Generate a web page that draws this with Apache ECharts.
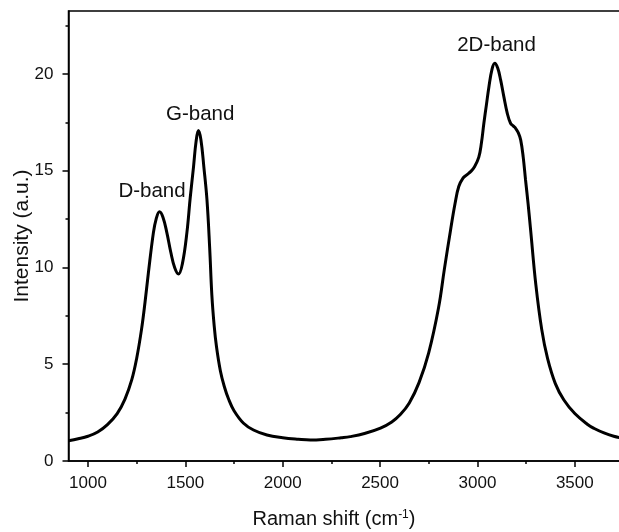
<!DOCTYPE html>
<html>
<head>
<meta charset="utf-8">
<script src="https://cdn.jsdelivr.net/npm/echarts@6/dist/echarts.min.js"></script>
<style>
  html, body { margin: 0; padding: 0; background: #fff; }
  #chart { width: 619px; height: 532px; }
</style>
</head>
<body>
<div id="chart"></div>
<script>
// Raman spectrum: shift (cm^-1) and intensity (a.u.)
const shift = [900, 950, 1000, 1050, 1100, 1150, 1190, 1225, 1250, 1275, 1293, 1310, 1336, 1350, 1367, 1385, 1405, 1425, 1445, 1465, 1485, 1508, 1525, 1542, 1555, 1567, 1580, 1595, 1611, 1625, 1636, 1648, 1660, 1680, 1700, 1722, 1750, 1799, 1850, 1919, 2000, 2080, 2142, 2220, 2300, 2347, 2420, 2502, 2560, 2604, 2650, 2700, 2750, 2800, 2830, 2862, 2885, 2904, 2925, 2945, 2965, 2985, 3007, 3020, 3033, 3046, 3059, 3075, 3089, 3104, 3119, 3136, 3153, 3170, 3185, 3196, 3210, 3222, 3235, 3247, 3260, 3273, 3300, 3330, 3360, 3400, 3444, 3500, 3564, 3600, 3650, 3700, 3750];
const intensity = [1.05, 1.15, 1.28, 1.5, 1.88, 2.45, 3.2, 4.2, 5.3, 6.8, 8.2, 9.7, 11.8, 12.5, 12.88, 12.6, 11.8, 10.8, 10.0, 9.66, 10.2, 11.8, 13.6, 15.2, 16.5, 17.07, 16.6, 15.2, 13.5, 11.0, 8.6, 7.0, 5.9, 4.65, 3.85, 3.2, 2.6, 1.95, 1.6, 1.34, 1.2, 1.12, 1.08, 1.12, 1.2, 1.26, 1.42, 1.7, 2.02, 2.4, 3.0, 4.05, 5.6, 7.9, 9.9, 11.94, 13.3, 14.18, 14.6, 14.78, 14.95, 15.2, 15.7, 16.4, 17.45, 18.4, 19.34, 20.25, 20.55, 20.3, 19.69, 18.8, 17.97, 17.45, 17.3, 17.19, 16.95, 16.59, 15.7, 14.52, 13.3, 11.94, 9.1, 6.8, 5.3, 4.0, 3.15, 2.45, 1.9, 1.68, 1.45, 1.28, 1.16];

// Axis ticks
const xMajorTicks = [1000, 1500, 2000, 2500, 3000, 3500];
const xMinorTicks = [1250, 1750, 2250, 2750, 3250, 3750];
const yMajorTicks = [0, 5, 10, 15, 20];
const yMinorTicks = [2.5, 7.5, 12.5, 17.5, 22.5];

// Band annotations
const bandNames = ['D-band', 'G-band', '2D-band'];
const bandShift = [1329, 1576, 3098];
const bandHeight = [13.95, 17.9, 21.5];

const FONT = '"Liberation Sans", Arial, sans-serif';
const INK = '#000';

const chart = echarts.init(document.getElementById('chart'), null, { renderer: 'canvas' });

const axisLine = { show: true, lineStyle: { color: INK, width: 1.5 } };
const X_MIN = 900, X_MAX = 3750, Y_MIN = 0, Y_MAX = 23.25;
const plain = v => String(v);

chart.setOption({
  animation: false,
  backgroundColor: '#fff',
  grid: {
    left: 68.5, top: 11, right: -4.5, bottom: 71,
    outerBoundsMode: 'none',
    containLabel: false,
    show: true, borderColor: INK, borderWidth: 1.5, backgroundColor: 'transparent'
  },
  xAxis: [
    {
      type: 'value', min: X_MIN, max: X_MAX, position: 'bottom',
      name: 'Raman shift (cm{sup|-1})',
      nameLocation: 'middle', nameGap: 47.5, nameMoveOverlap: false,
      nameTextStyle: {
        fontFamily: FONT, fontSize: 20, color: '#111', padding: [0, 24, 0, 0],
        rich: { sup: { fontFamily: FONT, fontSize: 12, color: '#111', padding: [0, 0, 10, 0] } }
      },
      axisLine: axisLine,
      axisTick: { show: true, inside: false, length: 6, customValues: xMajorTicks, lineStyle: { color: INK, width: 1.5 } },
      axisLabel: { show: true, margin: 14, customValues: xMajorTicks, formatter: plain, fontFamily: FONT, fontSize: 17, color: '#111' },
      splitLine: { show: false }
    },
    {
      type: 'value', min: X_MIN, max: X_MAX, position: 'bottom',
      axisLine: { show: false },
      axisTick: { show: true, inside: false, length: 3, customValues: xMinorTicks, lineStyle: { color: INK, width: 1.5 } },
      axisLabel: { show: false },
      splitLine: { show: false }
    }
  ],
  yAxis: [
    {
      type: 'value', min: Y_MIN, max: Y_MAX, position: 'left',
      name: 'Intensity (a.u.)',
      nameLocation: 'middle', nameGap: 36, nameRotate: 90, nameMoveOverlap: false,
      nameTextStyle: { fontFamily: FONT, fontSize: 21, color: '#111' },
      axisLine: axisLine,
      axisTick: { show: true, inside: false, length: 6, customValues: yMajorTicks, lineStyle: { color: INK, width: 1.5 } },
      axisLabel: { show: true, margin: 15, customValues: yMajorTicks, formatter: plain, fontFamily: FONT, fontSize: 17, color: '#111' },
      splitLine: { show: false }
    },
    {
      type: 'value', min: Y_MIN, max: Y_MAX, position: 'left',
      axisLine: { show: false },
      axisTick: { show: true, inside: false, length: 3, customValues: yMinorTicks, lineStyle: { color: INK, width: 1.5 } },
      axisLabel: { show: false },
      splitLine: { show: false }
    }
  ],
  series: [
    {
      type: 'line',
      xAxisIndex: 0, yAxisIndex: 0,
      data: shift.map((s, i) => [s, intensity[i]]),
      showSymbol: false,
      smooth: 0.4,
      clip: true,
      lineStyle: { color: '#000', width: 3 }
    },
    {
      type: 'scatter',
      xAxisIndex: 0, yAxisIndex: 0,
      data: bandNames.map((n, i) => ({ name: n, value: [bandShift[i], bandHeight[i]] })),
      symbolSize: 0,
      silent: true,
      itemStyle: { opacity: 1 },
      label: {
        show: true, position: 'inside', formatter: p => p.name, opacity: 1,
        fontFamily: FONT, fontSize: 20.5, color: '#111', textBorderWidth: 0
      }
    }
  ]
});
</script>
</body>
</html>
